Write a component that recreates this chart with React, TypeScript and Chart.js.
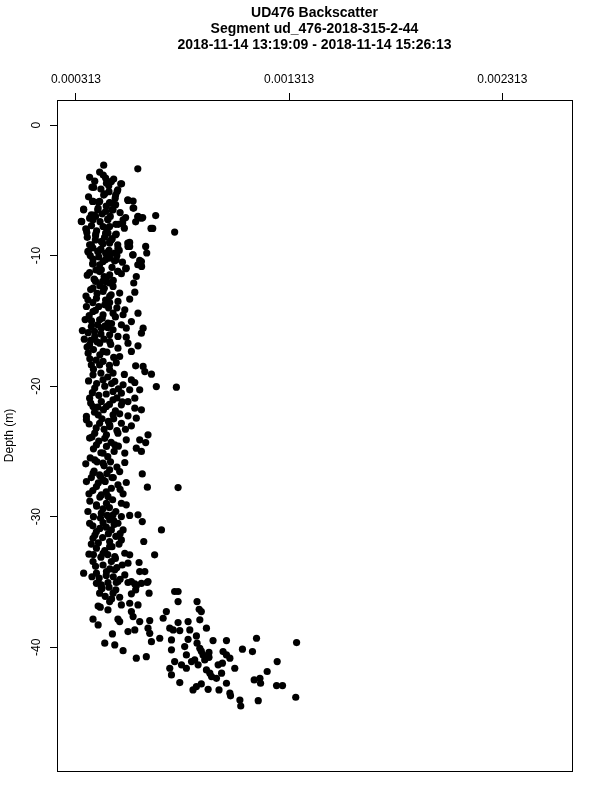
import React, { useEffect, useRef } from "react";
import { Chart, registerables } from "chart.js";

Chart.register(...registerables);

const titleLines = [
  "UD476 Backscatter",
  "Segment ud_476-2018-315-2-44",
  "2018-11-14 13:19:09 - 2018-11-14 15:26:13",
];
const xTickValues = [0.000313, 0.001313, 0.002313];
const xTickLabels = ["0.000313", "0.001313", "0.002313"];
const yTickValues = [0, -10, -20, -30, -40];
const yTickLabels = ["0", "-10", "-20", "-30", "-40"];
const yAxisTitle = "Depth (m)";
const xLimits = [0.000224, 0.00264];
const yLimits = [-49.48, 1.92];

// Backscatter values (x1e-6) and depth (m), in depth bands
const bsA = [443,603,424,441,377,490,452,527,396,467,509,499,443,556,581,391,424,471,499,584,349,415,452,481,687,546,603,626,340,377,405,462,532,593,359,364,471,452,665,673,776,405,499,471,434,556,565,640,377,509,645,371,415,452,475,579,391,424,452,509,612,603,621,546,377,424,584,405,438,471];
const depthA = [-3.07,-3.35,-3.6,-3.83,-4.0,-4.14,-4.06,-4.5,-4.78,-4.65,-4.96,-5.36,-5.36,-5.72,-5.82,-5.85,-5.85,-5.98,-6.1,-6.36,-6.44,-6.49,-6.62,-6.49,-6.93,-7.08,-7.03,-7.08,-7.39,-7.13,-7.0,-7.2,-7.51,-7.41,-7.95,-8.23,-7.77,-8.28,-7.92,-7.92,-8.2,-8.48,-8.4,-8.92,-8.92,-9.04,-9.3,-9.3,-9.17,-9.17,-9.8,-9.73,-9.68,-9.8,-9.85,-9.94,-10.65,-10.7,-10.3,-11.2,-10.37,-10.7,-10.83,-11.0,-11.3,-11.22,-12.1,-11.98,-11.98,-12.1];

const bsB = [388,456,523,479,393,448,471,506,557,581,349,385,417,487,338,393,463,534,604,620,362,406,440,463,502,432,385,565,557,471,510,369,421,456,495,581,393,471];
const depthB = [-4.75,-4.45,-4.5,-4.32,-5.85,-5.26,-5.93,-5.08,-5.77,-6.36,-6.49,-6.87,-6.36,-6.49,-7.38,-7.26,-7.26,-7.26,-7.0,-7.13,-8.02,-8.33,-7.77,-8.28,-8.35,-8.92,-9.17,-8.99,-9.3,-9.04,-9.43,-9.68,-9.63,-9.81,-9.81,-9.94,-10.27,-10.19];

const bsC = [393,440,502,549,612,620,432,471,510,526,596,401,456,393,440,487,518,589,369,409,471,510,565,362,448,471,542,393,440,487,534,604,424,463,526,573,343,385,432,487,549,628,620,401,471,510,549];
const depthC = [-10.58,-10.45,-10.32,-10.96,-10.7,-10.45,-11.09,-11.47,-11.21,-11.39,-11.6,-11.85,-11.72,-12.49,-12.75,-12.36,-12.87,-12.8,-13.39,-13.26,-13.13,-13.51,-13.33,-13.9,-13.77,-13.6,-14.15,-14.28,-14.53,-14.41,-14.53,-14.41,-14.92,-15.17,-15.3,-15.05,-15.74,-15.43,-15.56,-15.68,-15.56,-15.56,-15.94,-16.19,-16.07,-16.19,-16.25];

const bsD = [377,424,471,510,557,604,370,440,518,573,385,424,471,487,593,628,636,667,393,440,495,534,573,589,690,784,401,487,526,565,612,377,432,487,557,589,393,456,526,589,620,362,417,487,518,557,596];
const depthD = [-16.83,-16.71,-16.58,-17.09,-16.71,-16.91,-17.47,-17.34,-17.73,-17.34,-18.37,-18.37,-18.75,-19.0,-18.44,-18.49,-18.88,-19.08,-19.13,-19.52,-19.64,-19.9,-19.52,-19.72,-20.03,-20.08,-20.15,-20.41,-20.54,-20.28,-20.28,-20.92,-21.18,-21.05,-21.18,-20.92,-21.56,-21.56,-21.43,-21.69,-21.81,-22.32,-22.2,-22.2,-22.12,-22.27,-22.45];

const bsE = [362,424,471,526,573,401,377,456,510,549,651,612,640,409,456,495,596,620,440,542,401,359,440,542,471,393,424,518,624,362,440,510,549,409,479,648,792,374,432,463,534];
const depthE = [-22.58,-22.84,-22.96,-22.84,-23.04,-23.6,-23.98,-23.73,-23.6,-24.11,-23.73,-24.11,-24.32,-24.5,-24.62,-24.5,-24.75,-25.0,-25.13,-25.13,-25.65,-25.95,-25.9,-25.85,-26.41,-26.67,-26.8,-26.54,-26.72,-27.31,-27.18,-27.56,-27.38,-27.69,-27.82,-27.74,-27.77,-28.25,-28.33,-28.45,-28.25];

const bsF = [409,456,526,549,369,432,487,526,604,565,377,440,471,510,624,714,409,479,534,393,471,526,631,409,471,374,440,495,542,565,682,393,479,557,609,349,409,456,495,542,612,636,409,463,510,573,620,651,432,596];
const depthF = [-29.09,-28.97,-28.97,-29.09,-29.6,-29.73,-29.86,-29.99,-29.86,-29.9,-30.5,-30.45,-30.24,-30.5,-30.37,-31.01,-31.14,-31.01,-31.01,-31.65,-31.9,-31.78,-31.9,-32.41,-32.29,-32.87,-32.8,-33.05,-32.8,-32.92,-32.92,-33.44,-33.44,-33.56,-33.51,-34.33,-34.33,-34.2,-34.07,-34.46,-34.2,-34.2,-35.1,-35.04,-34.97,-34.97,-35.1,-34.97,-35.4,-35.3];

const bsG = [417,432,502,557,589,647,776,792,424,487,518,573,593,656,792,881,471,565,604,427,417,463,526,573,737,891,901,393,417,510,518,581,612,659,722,792,839,894,925,557,589,651,659,753,769,800,847,484,706,667,448,495,534,596,643,761,839,878,881,956,1019,1160,1348,761,823,831,894,901,909,937,1003,1019,1035,1094,1141,753,761,776,808,831,855,870,886,925,941,949,972,996,980,1000,1058,1019,800,862,878,901,933,984,1035,1038,1082,1086,1168,1344,1149,1176,1179,1210,1257,1254,1282,917,937];
const depthG = [-35.04,-35.22,-35.04,-35.04,-35.15,-35.04,-35.73,-35.73,-35.86,-35.86,-36.17,-35.91,-35.61,-35.86,-36.5,-36.5,-36.5,-36.63,-36.76,-36.93,-36.85,-37.14,-36.76,-37.27,-37.27,-37.09,-37.27,-37.85,-38.29,-37.85,-38.03,-37.65,-38.03,-37.96,-37.78,-38.11,-38.03,-37.9,-38.54,-38.8,-38.67,-38.54,-38.93,-38.54,-38.67,-38.72,-38.67,-38.98,-39.31,-39.57,-39.69,-39.82,-40.26,-40.84,-40.72,-39.44,-39.39,-39.13,-39.69,-39.49,-39.49,-39.31,-39.64,-40.2,-39.95,-40.59,-40.08,-40.3,-40.59,-40.77,-40.33,-40.59,-40.84,-40.15,-40.33,-41.61,-42.12,-41.1,-41.35,-41.61,-41.1,-40.97,-41.35,-41.74,-41.99,-42.25,-42.38,-41.99,-41.35,-41.22,-41.61,-42.76,-42.71,-43.27,-43.01,-42.81,-43.22,-43.27,-43.52,-43.72,-44.04,-44.5,-44.09,-43.83,-42.5,-42.38,-42.76,-41.86,-41.1,-42.94,-42.94,-40.97,-40.4];

// Dense core of the profile (overlapping marks)
const bsCoreA = [401,430,468,497,372,418,455,486,520,398,436,474,512,386,426,461,500,540,410,447,483,366,404,440,478,516,392,430,468,505,380,420,458,494,531,407,445,482];
const depthCoreA = [-4.3,-4.9,-5.1,-5.6,-5.5,-5.9,-6.2,-6.0,-6.7,-6.9,-6.8,-7.0,-7.6,-7.7,-7.4,-7.9,-7.6,-7.9,-8.1,-8.6,-8.7,-8.6,-8.8,-9.1,-8.8,-9.6,-9.4,-9.5,-9.6,-10.0,-10.0,-10.1,-10.0,-10.4,-10.5,-11.1,-11.6,-10.9];

const bsCoreB = [366,398,425,455,488,382,412,446,478,360,392,420,452,505,375,404,436,466,498,356,386,414,448,480,370,400,430,462,352,382,412,444,476,365,395,425,458,490,378,408];
const depthCoreB = [-11.5,-11.8,-12.3,-12.0,-11.9,-12.6,-12.9,-12.5,-13.0,-13.1,-13.6,-13.9,-13.4,-14.0,-14.6,-14.2,-14.8,-14.0,-14.7,-14.9,-15.0,-15.3,-15.4,-15.2,-15.9,-15.8,-16.0,-15.5,-16.4,-16.5,-16.6,-16.4,-16.8,-17.0,-17.2,-17.6,-17.4,-17.8,-17.9,-18.0];

const bsCoreC = [440,470,502,395,430,462,540,372,410,448,480,512,390,420,455,505,382,415,442,470,498,530,400,435,465,490,375,408,445,472,505,545];
const depthCoreC = [-18.1,-18.4,-18.2,-18.7,-19.0,-19.3,-19.1,-19.6,-19.8,-20.0,-19.8,-20.2,-20.5,-20.7,-20.6,-20.9,-21.3,-21.6,-21.8,-21.4,-21.9,-21.2,-22.0,-22.5,-22.7,-22.5,-22.9,-23.2,-23.3,-23.1,-23.4,-23.3];

const bsCoreD = [388,420,448,478,512,395,430,462,492,380,412,445,475,505,398,428,458,488,385,418,450,482,520,392,425,455,485,378,410,440,470,500,395,428,460,490];
const depthCoreD = [-23.9,-24.2,-24.0,-24.3,-24.6,-24.8,-25.1,-25.4,-25.0,-25.5,-25.8,-26.1,-25.8,-26.2,-26.5,-26.9,-26.7,-27.0,-27.0,-27.4,-27.3,-27.0,-27.9,-28.0,-28.5,-28.1,-28.7,-28.8,-29.2,-29.4,-29.3,-29.6,-30.0,-30.1,-29.9,-30.3];

const bsCoreE = [392,425,455,492,520,402,438,465,500,385,418,448,482,515,395,430,462,498,530,405,440,472,505,388,422,455,488,520,435,468,500,450,480];
const depthCoreE = [-30.7,-30.9,-30.8,-30.6,-31.3,-31.4,-31.6,-31.3,-31.5,-32.1,-32.0,-32.6,-32.3,-32.1,-32.9,-33.1,-32.9,-33.2,-33.7,-33.8,-33.7,-34.0,-33.9,-34.6,-34.7,-34.5,-34.6,-34.8,-35.5,-35.4,-35.6,-36.1,-36.3];

const bands: [number[], number[]][] = [
  [bsA, depthA], [bsB, depthB], [bsC, depthC], [bsD, depthD],
  [bsE, depthE], [bsF, depthF], [bsG, depthG],
  [bsCoreA, depthCoreA], [bsCoreB, depthCoreB], [bsCoreC, depthCoreC],
  [bsCoreD, depthCoreD], [bsCoreE, depthCoreE],
];

const FONT = "'Liberation Sans', Arial, Helvetica, sans-serif";

const rStyle = {
  id: "rStyle",
  afterDraw(chart: any) {
    const { ctx, chartArea: a, scales } = chart;
    ctx.save();
    ctx.strokeStyle = "#000";
    ctx.lineWidth = 1;
    ctx.strokeRect(a.left + 0.5, a.top + 0.5, a.right - a.left, a.bottom - a.top);
    ctx.fillStyle = "#000";
    ctx.textAlign = "center";
    ctx.textBaseline = "middle";
    const cx = (a.left + a.right) / 2;
    ctx.font = `bold 14px ${FONT}`;
    titleLines.forEach((t, i) => ctx.fillText(t, cx, 13 + i * 16));
    ctx.font = `12px ${FONT}`;
    xTickValues.forEach((v, i) => {
      ctx.fillText(xTickLabels[i], scales.x.getPixelForValue(v), 80);
    });
    yTickValues.forEach((v, i) => {
      const y = scales.y.getPixelForValue(v);
      ctx.save();
      ctx.translate(37, y);
      ctx.rotate(-Math.PI / 2);
      ctx.fillText(yTickLabels[i], 0, 0);
      ctx.restore();
    });
    ctx.save();
    ctx.translate(10, (a.top + a.bottom) / 2);
    ctx.rotate(-Math.PI / 2);
    ctx.fillText(yAxisTitle, 0, 0);
    ctx.restore();
    ctx.restore();
  },
};

export default function App() {
  const ref = useRef<HTMLCanvasElement | null>(null);
  useEffect(() => {
    document.body.style.margin = "0";
    if (!ref.current) return;
    const points: { x: number; y: number }[] = [];
    bands.forEach(([bs, dp]) => {
      const n = Math.min(bs.length, dp.length);
      for (let i = 0; i < n; i++) points.push({ x: bs[i] * 1e-6, y: dp[i] });
    });
    const chart = new Chart(ref.current, {
      type: "scatter",
      data: {
        datasets: [
          {
            data: points,
            pointRadius: 3.6,
            pointBorderWidth: 0,
            pointBackgroundColor: "#000",
            pointBorderColor: "#000",
          },
        ],
      },
      options: {
        animation: false,
        responsive: false,
        devicePixelRatio: 1,
        events: [],
        layout: { padding: { left: 0, top: 0, right: 28, bottom: 29 } },
        plugins: { legend: { display: false }, tooltip: { enabled: false }, title: { display: false } },
        scales: {
          x: {
            type: "linear",
            position: "top",
            min: xLimits[0],
            max: xLimits[1],
            afterBuildTicks: (s: any) => {
              s.ticks = xTickValues.map((v) => ({ value: v }));
            },
            afterFit: (s: any) => {
              s.height = 100;
            },
            ticks: { display: false },
            border: { display: false },
            grid: { display: true, drawOnChartArea: false, drawTicks: true, tickLength: 7, color: "#000", lineWidth: 1 },
          },
          y: {
            type: "linear",
            position: "left",
            min: yLimits[0],
            max: yLimits[1],
            afterBuildTicks: (s: any) => {
              s.ticks = yTickValues.map((v) => ({ value: v }));
            },
            afterFit: (s: any) => {
              s.width = 57;
            },
            ticks: { display: false },
            border: { display: false },
            grid: { display: true, drawOnChartArea: false, drawTicks: true, tickLength: 7, color: "#000", lineWidth: 1 },
          },
        },
      },
      plugins: [rStyle],
    });
    return () => chart.destroy();
  }, []);
  return <canvas ref={ref} width={600} height={800} style={{ width: 600, height: 800, display: "block" }} />;
}
